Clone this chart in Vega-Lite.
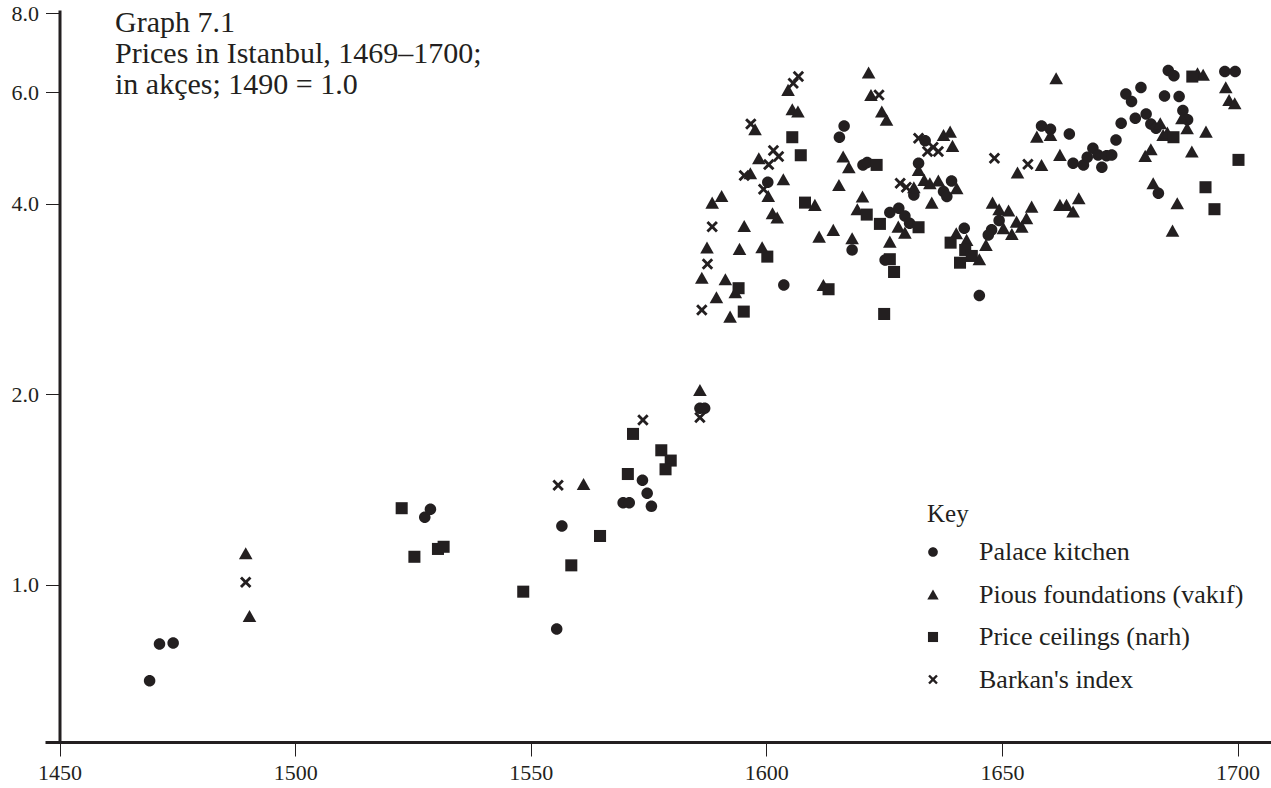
{
  "$schema": "https://vega.github.io/schema/vega-lite/v6.json",
  "width": 1226,
  "height": 732,
  "autosize": {"type": "none"},
  "padding": {"left": 45, "top": 10, "right": 0, "bottom": 46},
  "background": "white",
  "title": {
    "text": ["Graph 7.1", "Prices in Istanbul, 1469–1700;", "in akçes; 1490 = 1.0"],
    "anchor": "start",
    "frame": "group",
    "orient": "top",
    "baseline": "top",
    "font": "Liberation Serif",
    "fontSize": 30,
    "fontWeight": "normal",
    "color": "#231f20",
    "lineHeight": 31,
    "dx": 70,
    "dy": 90,
    "offset": -8
  },
  "data": {
    "values": [
      {"series": "Palace kitchen", "year": 1469.1, "index": 0.706},
      {"series": "Palace kitchen", "year": 1471.2, "index": 0.807},
      {"series": "Palace kitchen", "year": 1474.1, "index": 0.810},
      {"series": "Palace kitchen", "year": 1527.5, "index": 1.279},
      {"series": "Palace kitchen", "year": 1528.7, "index": 1.317},
      {"series": "Palace kitchen", "year": 1555.5, "index": 0.852},
      {"series": "Palace kitchen", "year": 1556.6, "index": 1.239},
      {"series": "Palace kitchen", "year": 1569.6, "index": 1.349},
      {"series": "Palace kitchen", "year": 1570.9, "index": 1.349},
      {"series": "Palace kitchen", "year": 1573.7, "index": 1.463},
      {"series": "Palace kitchen", "year": 1574.7, "index": 1.396},
      {"series": "Palace kitchen", "year": 1575.6, "index": 1.331},
      {"series": "Palace kitchen", "year": 1585.9, "index": 1.902},
      {"series": "Palace kitchen", "year": 1586.9, "index": 1.902},
      {"series": "Palace kitchen", "year": 1600.3, "index": 4.326},
      {"series": "Palace kitchen", "year": 1603.7, "index": 2.977},
      {"series": "Palace kitchen", "year": 1616.5, "index": 5.308},
      {"series": "Palace kitchen", "year": 1615.5, "index": 5.094},
      {"series": "Palace kitchen", "year": 1620.5, "index": 4.606},
      {"series": "Palace kitchen", "year": 1621.4, "index": 4.645},
      {"series": "Palace kitchen", "year": 1618.2, "index": 3.381},
      {"series": "Palace kitchen", "year": 1625.2, "index": 3.260},
      {"series": "Palace kitchen", "year": 1633.7, "index": 5.031},
      {"series": "Palace kitchen", "year": 1632.3, "index": 4.635},
      {"series": "Palace kitchen", "year": 1631.3, "index": 4.130},
      {"series": "Palace kitchen", "year": 1639.3, "index": 4.346},
      {"series": "Palace kitchen", "year": 1637.6, "index": 4.180},
      {"series": "Palace kitchen", "year": 1638.3, "index": 4.105},
      {"series": "Palace kitchen", "year": 1626.2, "index": 3.873},
      {"series": "Palace kitchen", "year": 1628.1, "index": 3.935},
      {"series": "Palace kitchen", "year": 1629.4, "index": 3.826},
      {"series": "Palace kitchen", "year": 1630.4, "index": 3.727},
      {"series": "Palace kitchen", "year": 1642.0, "index": 3.660},
      {"series": "Palace kitchen", "year": 1645.2, "index": 2.864},
      {"series": "Palace kitchen", "year": 1649.4, "index": 3.762},
      {"series": "Palace kitchen", "year": 1647.8, "index": 3.637},
      {"series": "Palace kitchen", "year": 1647.1, "index": 3.571},
      {"series": "Palace kitchen", "year": 1658.4, "index": 5.308},
      {"series": "Palace kitchen", "year": 1660.3, "index": 5.245},
      {"series": "Palace kitchen", "year": 1664.3, "index": 5.156},
      {"series": "Palace kitchen", "year": 1665.1, "index": 4.635},
      {"series": "Palace kitchen", "year": 1667.3, "index": 4.606},
      {"series": "Palace kitchen", "year": 1668.1, "index": 4.737},
      {"series": "Palace kitchen", "year": 1669.3, "index": 4.895},
      {"series": "Palace kitchen", "year": 1670.4, "index": 4.777},
      {"series": "Palace kitchen", "year": 1671.2, "index": 4.567},
      {"series": "Palace kitchen", "year": 1672.2, "index": 4.760},
      {"series": "Palace kitchen", "year": 1673.3, "index": 4.777},
      {"series": "Palace kitchen", "year": 1674.2, "index": 5.044},
      {"series": "Palace kitchen", "year": 1675.3, "index": 5.360},
      {"series": "Palace kitchen", "year": 1676.3, "index": 5.963},
      {"series": "Palace kitchen", "year": 1677.5, "index": 5.799},
      {"series": "Palace kitchen", "year": 1679.5, "index": 6.101},
      {"series": "Palace kitchen", "year": 1678.3, "index": 5.459},
      {"series": "Palace kitchen", "year": 1680.6, "index": 5.545},
      {"series": "Palace kitchen", "year": 1681.6, "index": 5.347},
      {"series": "Palace kitchen", "year": 1682.7, "index": 5.264},
      {"series": "Palace kitchen", "year": 1683.2, "index": 4.156},
      {"series": "Palace kitchen", "year": 1684.5, "index": 5.920},
      {"series": "Palace kitchen", "year": 1687.6, "index": 5.905},
      {"series": "Palace kitchen", "year": 1685.3, "index": 6.491},
      {"series": "Palace kitchen", "year": 1686.5, "index": 6.367},
      {"series": "Palace kitchen", "year": 1688.4, "index": 5.612},
      {"series": "Palace kitchen", "year": 1689.4, "index": 5.426},
      {"series": "Palace kitchen", "year": 1697.3, "index": 6.467},
      {"series": "Palace kitchen", "year": 1699.5, "index": 6.467},
      {"series": "Pious foundations (vakıf)", "year": 1489.5, "index": 1.122},
      {"series": "Pious foundations (vakıf)", "year": 1490.3, "index": 0.893},
      {"series": "Pious foundations (vakıf)", "year": 1561.2, "index": 1.444},
      {"series": "Pious foundations (vakıf)", "year": 1585.9, "index": 2.032},
      {"series": "Pious foundations (vakıf)", "year": 1604.6, "index": 6.051},
      {"series": "Pious foundations (vakıf)", "year": 1605.5, "index": 5.641},
      {"series": "Pious foundations (vakıf)", "year": 1606.7, "index": 5.592},
      {"series": "Pious foundations (vakıf)", "year": 1597.6, "index": 5.245},
      {"series": "Pious foundations (vakıf)", "year": 1598.4, "index": 4.720},
      {"series": "Pious foundations (vakıf)", "year": 1596.6, "index": 4.470},
      {"series": "Pious foundations (vakıf)", "year": 1603.6, "index": 4.373},
      {"series": "Pious foundations (vakıf)", "year": 1600.4, "index": 4.115},
      {"series": "Pious foundations (vakıf)", "year": 1590.5, "index": 4.115},
      {"series": "Pious foundations (vakıf)", "year": 1588.5, "index": 4.016},
      {"series": "Pious foundations (vakıf)", "year": 1610.3, "index": 3.983},
      {"series": "Pious foundations (vakıf)", "year": 1601.3, "index": 3.864},
      {"series": "Pious foundations (vakıf)", "year": 1602.3, "index": 3.803},
      {"series": "Pious foundations (vakıf)", "year": 1595.3, "index": 3.690},
      {"series": "Pious foundations (vakıf)", "year": 1611.2, "index": 3.549},
      {"series": "Pious foundations (vakıf)", "year": 1614.2, "index": 3.637},
      {"series": "Pious foundations (vakıf)", "year": 1587.4, "index": 3.410},
      {"series": "Pious foundations (vakıf)", "year": 1594.3, "index": 3.394},
      {"series": "Pious foundations (vakıf)", "year": 1599.1, "index": 3.415},
      {"series": "Pious foundations (vakıf)", "year": 1586.3, "index": 3.057},
      {"series": "Pious foundations (vakıf)", "year": 1591.3, "index": 3.039},
      {"series": "Pious foundations (vakıf)", "year": 1593.4, "index": 2.900},
      {"series": "Pious foundations (vakıf)", "year": 1589.4, "index": 2.847},
      {"series": "Pious foundations (vakıf)", "year": 1612.1, "index": 2.977},
      {"series": "Pious foundations (vakıf)", "year": 1592.3, "index": 2.653},
      {"series": "Pious foundations (vakıf)", "year": 1621.7, "index": 6.444},
      {"series": "Pious foundations (vakıf)", "year": 1622.2, "index": 5.941},
      {"series": "Pious foundations (vakıf)", "year": 1624.5, "index": 5.592},
      {"series": "Pious foundations (vakıf)", "year": 1625.5, "index": 5.426},
      {"series": "Pious foundations (vakıf)", "year": 1616.3, "index": 4.748},
      {"series": "Pious foundations (vakıf)", "year": 1617.5, "index": 4.567},
      {"series": "Pious foundations (vakıf)", "year": 1615.4, "index": 4.283},
      {"series": "Pious foundations (vakıf)", "year": 1620.4, "index": 4.105},
      {"series": "Pious foundations (vakıf)", "year": 1619.3, "index": 3.921},
      {"series": "Pious foundations (vakıf)", "year": 1618.2, "index": 3.528},
      {"series": "Pious foundations (vakıf)", "year": 1626.2, "index": 3.485},
      {"series": "Pious foundations (vakıf)", "year": 1637.6, "index": 5.137},
      {"series": "Pious foundations (vakıf)", "year": 1639.0, "index": 5.199},
      {"series": "Pious foundations (vakıf)", "year": 1639.5, "index": 4.936},
      {"series": "Pious foundations (vakıf)", "year": 1632.3, "index": 4.523},
      {"series": "Pious foundations (vakıf)", "year": 1631.3, "index": 4.247},
      {"series": "Pious foundations (vakıf)", "year": 1633.5, "index": 4.362},
      {"series": "Pious foundations (vakıf)", "year": 1634.7, "index": 4.310},
      {"series": "Pious foundations (vakıf)", "year": 1636.5, "index": 4.351},
      {"series": "Pious foundations (vakıf)", "year": 1640.4, "index": 4.232},
      {"series": "Pious foundations (vakıf)", "year": 1635.1, "index": 4.016},
      {"series": "Pious foundations (vakıf)", "year": 1628.0, "index": 3.680},
      {"series": "Pious foundations (vakıf)", "year": 1629.4, "index": 3.601},
      {"series": "Pious foundations (vakıf)", "year": 1640.3, "index": 3.593},
      {"series": "Pious foundations (vakıf)", "year": 1642.5, "index": 3.507},
      {"series": "Pious foundations (vakıf)", "year": 1645.2, "index": 3.269},
      {"series": "Pious foundations (vakıf)", "year": 1646.6, "index": 3.444},
      {"series": "Pious foundations (vakıf)", "year": 1653.3, "index": 4.479},
      {"series": "Pious foundations (vakıf)", "year": 1648.0, "index": 4.016},
      {"series": "Pious foundations (vakıf)", "year": 1649.4, "index": 3.921},
      {"series": "Pious foundations (vakıf)", "year": 1651.4, "index": 3.901},
      {"series": "Pious foundations (vakıf)", "year": 1656.3, "index": 3.958},
      {"series": "Pious foundations (vakıf)", "year": 1650.3, "index": 3.660},
      {"series": "Pious foundations (vakıf)", "year": 1653.1, "index": 3.748},
      {"series": "Pious foundations (vakıf)", "year": 1655.2, "index": 3.795},
      {"series": "Pious foundations (vakıf)", "year": 1652.1, "index": 3.584},
      {"series": "Pious foundations (vakıf)", "year": 1654.2, "index": 3.680},
      {"series": "Pious foundations (vakıf)", "year": 1657.4, "index": 5.105},
      {"series": "Pious foundations (vakıf)", "year": 1661.5, "index": 6.314},
      {"series": "Pious foundations (vakıf)", "year": 1660.3, "index": 5.137},
      {"series": "Pious foundations (vakıf)", "year": 1662.3, "index": 4.777},
      {"series": "Pious foundations (vakıf)", "year": 1658.4, "index": 4.606},
      {"series": "Pious foundations (vakıf)", "year": 1662.3, "index": 3.983},
      {"series": "Pious foundations (vakıf)", "year": 1663.7, "index": 3.983},
      {"series": "Pious foundations (vakıf)", "year": 1665.1, "index": 3.887},
      {"series": "Pious foundations (vakıf)", "year": 1666.3, "index": 4.081},
      {"series": "Pious foundations (vakıf)", "year": 1683.6, "index": 5.360},
      {"series": "Pious foundations (vakıf)", "year": 1684.2, "index": 5.137},
      {"series": "Pious foundations (vakıf)", "year": 1685.1, "index": 5.180},
      {"series": "Pious foundations (vakıf)", "year": 1680.4, "index": 4.760},
      {"series": "Pious foundations (vakıf)", "year": 1681.6, "index": 4.877},
      {"series": "Pious foundations (vakıf)", "year": 1682.1, "index": 4.310},
      {"series": "Pious foundations (vakıf)", "year": 1687.2, "index": 4.007},
      {"series": "Pious foundations (vakıf)", "year": 1686.2, "index": 3.627},
      {"series": "Pious foundations (vakıf)", "year": 1691.5, "index": 6.430},
      {"series": "Pious foundations (vakıf)", "year": 1692.7, "index": 6.391},
      {"series": "Pious foundations (vakıf)", "year": 1697.5, "index": 6.110},
      {"series": "Pious foundations (vakıf)", "year": 1698.2, "index": 5.834},
      {"series": "Pious foundations (vakıf)", "year": 1699.4, "index": 5.765},
      {"series": "Pious foundations (vakıf)", "year": 1688.2, "index": 5.459},
      {"series": "Pious foundations (vakıf)", "year": 1689.3, "index": 5.264},
      {"series": "Pious foundations (vakıf)", "year": 1693.3, "index": 5.199},
      {"series": "Pious foundations (vakıf)", "year": 1690.3, "index": 4.835},
      {"series": "Price ceilings (narh)", "year": 1522.6, "index": 1.322},
      {"series": "Price ceilings (narh)", "year": 1525.3, "index": 1.108},
      {"series": "Price ceilings (narh)", "year": 1530.3, "index": 1.140},
      {"series": "Price ceilings (narh)", "year": 1531.5, "index": 1.149},
      {"series": "Price ceilings (narh)", "year": 1548.4, "index": 0.976},
      {"series": "Price ceilings (narh)", "year": 1558.6, "index": 1.074},
      {"series": "Price ceilings (narh)", "year": 1564.7, "index": 1.195},
      {"series": "Price ceilings (narh)", "year": 1570.6, "index": 1.497},
      {"series": "Price ceilings (narh)", "year": 1571.7, "index": 1.732},
      {"series": "Price ceilings (narh)", "year": 1577.7, "index": 1.632},
      {"series": "Price ceilings (narh)", "year": 1579.7, "index": 1.572},
      {"series": "Price ceilings (narh)", "year": 1578.6, "index": 1.523},
      {"series": "Price ceilings (narh)", "year": 1605.5, "index": 5.094},
      {"series": "Price ceilings (narh)", "year": 1607.3, "index": 4.771},
      {"series": "Price ceilings (narh)", "year": 1608.2, "index": 4.016},
      {"series": "Price ceilings (narh)", "year": 1600.2, "index": 3.300},
      {"series": "Price ceilings (narh)", "year": 1594.1, "index": 2.942},
      {"series": "Price ceilings (narh)", "year": 1595.2, "index": 2.702},
      {"series": "Price ceilings (narh)", "year": 1613.2, "index": 2.931},
      {"series": "Price ceilings (narh)", "year": 1623.4, "index": 4.606},
      {"series": "Price ceilings (narh)", "year": 1621.3, "index": 3.845},
      {"series": "Price ceilings (narh)", "year": 1624.1, "index": 3.717},
      {"series": "Price ceilings (narh)", "year": 1626.2, "index": 3.269},
      {"series": "Price ceilings (narh)", "year": 1627.1, "index": 3.121},
      {"series": "Price ceilings (narh)", "year": 1625.0, "index": 2.679},
      {"series": "Price ceilings (narh)", "year": 1632.3, "index": 3.672},
      {"series": "Price ceilings (narh)", "year": 1639.1, "index": 3.472},
      {"series": "Price ceilings (narh)", "year": 1642.2, "index": 3.381},
      {"series": "Price ceilings (narh)", "year": 1643.6, "index": 3.308},
      {"series": "Price ceilings (narh)", "year": 1641.1, "index": 3.228},
      {"series": "Price ceilings (narh)", "year": 1686.4, "index": 5.094},
      {"series": "Price ceilings (narh)", "year": 1690.4, "index": 6.351},
      {"series": "Price ceilings (narh)", "year": 1700.2, "index": 4.691},
      {"series": "Price ceilings (narh)", "year": 1693.2, "index": 4.247},
      {"series": "Price ceilings (narh)", "year": 1695.1, "index": 3.921},
      {"series": "Barkan's index", "year": 1489.5, "index": 1.010},
      {"series": "Barkan's index", "year": 1555.8, "index": 1.437},
      {"series": "Barkan's index", "year": 1573.8, "index": 1.822},
      {"series": "Barkan's index", "year": 1585.9, "index": 1.838},
      {"series": "Barkan's index", "year": 1606.8, "index": 6.351},
      {"series": "Barkan's index", "year": 1605.7, "index": 6.200},
      {"series": "Barkan's index", "year": 1596.7, "index": 5.347},
      {"series": "Barkan's index", "year": 1601.5, "index": 4.852},
      {"series": "Barkan's index", "year": 1602.6, "index": 4.748},
      {"series": "Barkan's index", "year": 1600.5, "index": 4.611},
      {"series": "Barkan's index", "year": 1595.3, "index": 4.431},
      {"series": "Barkan's index", "year": 1599.4, "index": 4.216},
      {"series": "Barkan's index", "year": 1588.5, "index": 3.680},
      {"series": "Barkan's index", "year": 1587.5, "index": 3.213},
      {"series": "Barkan's index", "year": 1586.3, "index": 2.718},
      {"series": "Barkan's index", "year": 1623.9, "index": 5.941},
      {"series": "Barkan's index", "year": 1632.3, "index": 5.076},
      {"series": "Barkan's index", "year": 1634.2, "index": 4.835},
      {"series": "Barkan's index", "year": 1636.5, "index": 4.835},
      {"series": "Barkan's index", "year": 1635.4, "index": 4.912},
      {"series": "Barkan's index", "year": 1628.4, "index": 4.310},
      {"series": "Barkan's index", "year": 1629.7, "index": 4.247},
      {"series": "Barkan's index", "year": 1648.4, "index": 4.720},
      {"series": "Barkan's index", "year": 1655.5, "index": 4.618}
    ]
  },
  "mark": {"type": "point", "filled": true, "opacity": 1, "color": "#231f20", "strokeWidth": 0, "size": 185},
  "encoding": {
    "x": {
      "field": "year",
      "type": "quantitative",
      "scale": {"domain": [1446.9, 1707.1], "nice": false, "zero": false},
      "axis": {
        "title": null,
        "values": [1450, 1500, 1550, 1600, 1650, 1700],
        "format": "d",
        "grid": false,
        "domainWidth": 3,
        "domainColor": "#231f20",
        "tickColor": "#231f20",
        "tickWidth": 1,
        "tickSize": 14,
        "labelFont": "Liberation Serif",
        "labelFontSize": 22,
        "labelColor": "#231f20",
        "labelPadding": 6,
        "labelFlush": false,
        "labelOverlap": false
      }
    },
    "y": {
      "field": "index",
      "type": "quantitative",
      "scale": {"type": "log", "domain": [0.565, 8.09], "nice": false, "zero": false},
      "axis": {
        "title": null,
        "values": [1, 2, 4, 6, 8],
        "format": ".1f",
        "grid": false,
        "offset": -14.5,
        "domainWidth": 3,
        "domainColor": "#231f20",
        "tickColor": "#231f20",
        "tickWidth": 1,
        "tickSize": 14,
        "labelFont": "Liberation Serif",
        "labelFontSize": 22,
        "labelColor": "#231f20",
        "labelPadding": 7,
        "labelFlush": false,
        "labelOverlap": false
      }
    },
    "shape": {
      "field": "series",
      "type": "nominal",
      "scale": {
        "domain": ["Palace kitchen", "Pious foundations (vakıf)", "Price ceilings (narh)", "Barkan's index"],
        "range": [
          "M0.846,0A0.846,0.846,0,1,1,-0.846,0A0.846,0.846,0,1,1,0.846,0Z",
          "M0,-0.885L1,0.885L-1,0.885Z",
          "M-0.885,-0.885L0.885,-0.885L0.885,0.885L-0.885,0.885Z",
          "M-0.846,-0.55L-0.55,-0.846L0,-0.296L0.55,-0.846L0.846,-0.55L0.296,0L0.846,0.55L0.55,0.846L0,0.296L-0.55,0.846L-0.846,0.55L-0.296,0Z"
        ]
      },
      "legend": {
        "title": "Key",
        "orient": "none",
        "legendX": 882,
        "legendY": 492,
        "padding": 0,
        "titleFont": "Liberation Serif",
        "titleFontSize": 25,
        "titleFontWeight": "normal",
        "titleColor": "#231f20",
        "titlePadding": 12,
        "titleLimit": 400,
        "labelFont": "Liberation Serif",
        "labelFontSize": 26,
        "labelColor": "#231f20",
        "labelLimit": 400,
        "labelOffset": 33,
        "symbolOffset": -7,
        "rowPadding": 16.5,
        "symbolSize": 130,
        "symbolFillColor": "#231f20",
        "symbolStrokeWidth": 0,
        "symbolOpacity": 1
      }
    }
  },
  "config": {
    "font": "Liberation Serif",
    "view": {"stroke": null}
  }
}
